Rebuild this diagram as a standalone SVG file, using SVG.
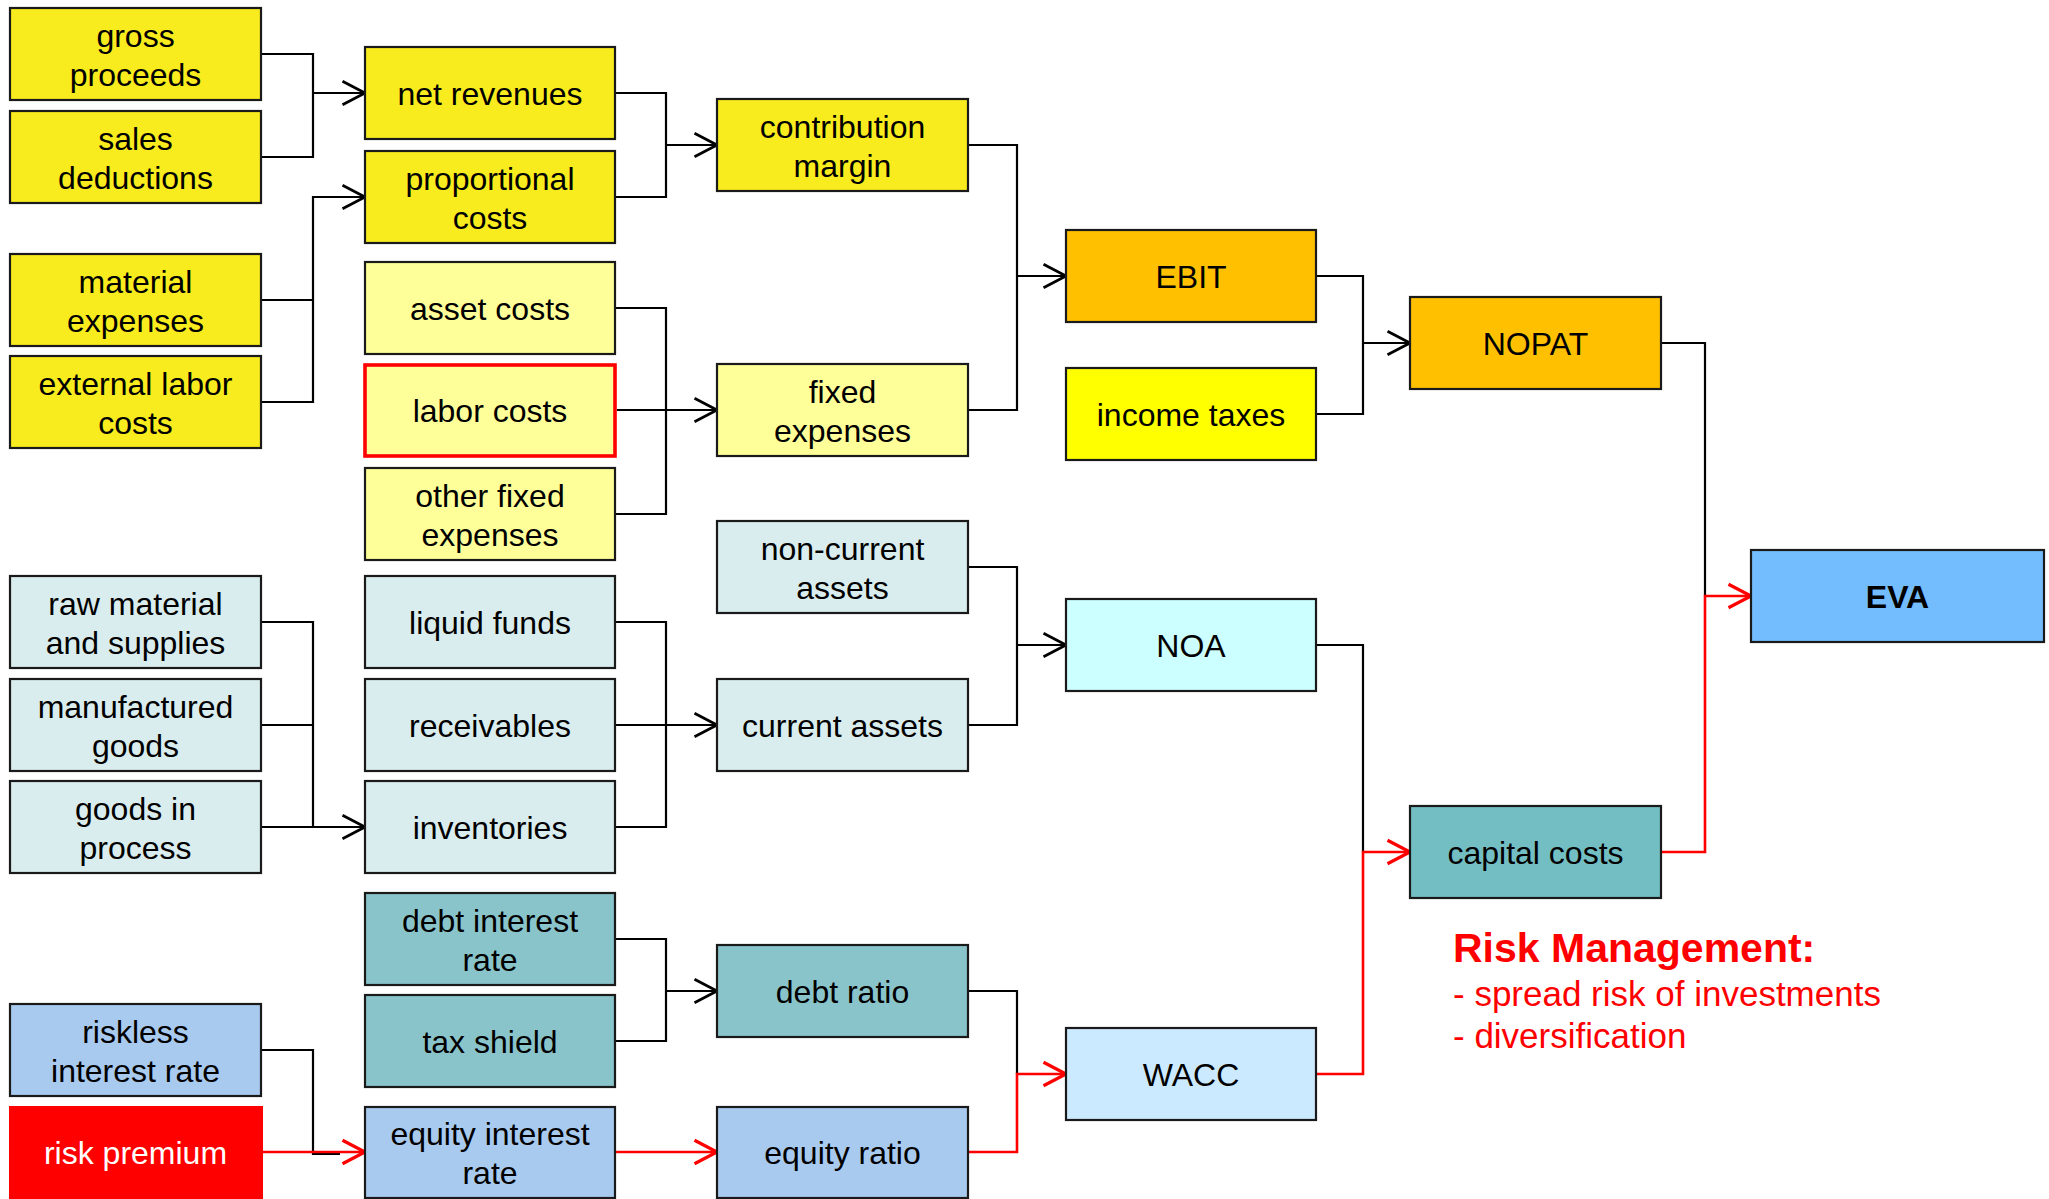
<svg xmlns="http://www.w3.org/2000/svg" width="2049" height="1199" viewBox="0 0 2049 1199">
  <style>
    .box { stroke: #1a1a1a; stroke-width: 2.2; }
    .lbl { font-family: "Liberation Sans", Arial, sans-serif; font-size: 32px; fill: #000; text-anchor: middle; }
    .bold { font-weight: bold; }
    .wire { fill: none; stroke: #000; stroke-width: 2.2; }
    .wire-red { fill: none; stroke: #ff0000; stroke-width: 2.6; }
    .arrow { marker-end: url(#head); }
    .arrow-red { marker-end: url(#head-red); }
    .y1 { fill: #f9ec1e; }
    .y2 { fill: #ffff99; }
    .y3 { fill: #ffff00; }
    .or { fill: #ffc000; }
    .gc { fill: #daedee; }
    .tl { fill: #8ac4cb; }
    .tl2 { fill: #73bec3; }
    .bl { fill: #a9caef; }
    .cy { fill: #ccffff; }
    .sk { fill: #cceaff; }
    .ev { fill: #73bdfe; }
    .note { font-family: "Liberation Sans", Arial, sans-serif; fill: #ff0000; }
  </style>
  <defs>
    <marker id="head" markerUnits="userSpaceOnUse" markerWidth="30" markerHeight="30" viewBox="-24 -14 26 28" refX="0" refY="0" orient="auto">
      <path d="M-21,-11 L0,0 L-21,11" fill="none" stroke="#000" stroke-width="2.6"/>
    </marker>
    <marker id="head-red" markerUnits="userSpaceOnUse" markerWidth="30" markerHeight="30" viewBox="-24 -14 26 28" refX="0" refY="0" orient="auto">
      <path d="M-21,-11 L0,0 L-21,11" fill="none" stroke="#ff0000" stroke-width="3"/>
    </marker>
  </defs>

  <rect width="2049" height="1199" fill="#ffffff"/>

  <!-- connectors -->
  <g id="connectors">
    <path class="wire" d="M261,54 H313 V157 H261"/>
    <path class="wire arrow" d="M313,93 H365"/>
    <path class="wire" d="M261,300 H313"/>
    <path class="wire arrow" d="M261,402 H313 V197 H365"/>
    <path class="wire" d="M615,93 H666 V197 H615"/>
    <path class="wire arrow" d="M666,145 H717"/>
    <path class="wire" d="M615,308 H666 V514 H615"/>
    <path class="wire arrow" d="M617,410 H717"/>
    <path class="wire" d="M968,145 H1017 V410 H968"/>
    <path class="wire arrow" d="M1017,276 H1066"/>
    <path class="wire" d="M1316,276 H1363 V414 H1316"/>
    <path class="wire arrow" d="M1363,343 H1410"/>
    <path class="wire" d="M1661,343 H1705 V596"/>
    <path class="wire-red arrow-red" d="M1661,852 H1705 V596 H1751"/>
    <path class="wire" d="M261,622 H313 V827"/>
    <path class="wire" d="M261,725 H313"/>
    <path class="wire arrow" d="M261,827 H365"/>
    <path class="wire" d="M615,622 H666 V827 H615"/>
    <path class="wire arrow" d="M615,725 H717"/>
    <path class="wire" d="M968,567 H1017 V725 H968"/>
    <path class="wire arrow" d="M1017,645 H1066"/>
    <path class="wire" d="M1316,645 H1363 V852"/>
    <path class="wire-red arrow-red" d="M1316,1074 H1363 V852 H1410"/>
    <path class="wire" d="M615,939 H666 V1041 H615"/>
    <path class="wire arrow" d="M666,991 H717"/>
    <path class="wire" d="M261,1050 H313 V1154 H340"/>
    <path class="wire-red arrow-red" d="M262,1152 H365"/>
    <path class="wire-red arrow-red" d="M615,1152 H717"/>
    <path class="wire" d="M968,991 H1017 V1074"/>
    <path class="wire-red arrow-red" d="M968,1152 H1017 V1074 H1066"/>
  </g>

  <!-- first column -->
  <g id="gross-proceeds">
    <rect class="box y1" x="10" y="8" width="251" height="92"/>
    <text class="lbl" x="135.5" y="47">gross</text>
    <text class="lbl" x="135.5" y="86">proceeds</text>
  </g>
  <g id="sales-deductions">
    <rect class="box y1" x="10" y="111" width="251" height="92"/>
    <text class="lbl" x="135.5" y="150">sales</text>
    <text class="lbl" x="135.5" y="189">deductions</text>
  </g>
  <g id="material-expenses">
    <rect class="box y1" x="10" y="254" width="251" height="92"/>
    <text class="lbl" x="135.5" y="293">material</text>
    <text class="lbl" x="135.5" y="332">expenses</text>
  </g>
  <g id="external-labor-costs">
    <rect class="box y1" x="10" y="356" width="251" height="92"/>
    <text class="lbl" x="135.5" y="395">external labor</text>
    <text class="lbl" x="135.5" y="434">costs</text>
  </g>
  <g id="raw-material">
    <rect class="box gc" x="10" y="576" width="251" height="92"/>
    <text class="lbl" x="135.5" y="615">raw material</text>
    <text class="lbl" x="135.5" y="654">and supplies</text>
  </g>
  <g id="manufactured-goods">
    <rect class="box gc" x="10" y="679" width="251" height="92"/>
    <text class="lbl" x="135.5" y="718">manufactured</text>
    <text class="lbl" x="135.5" y="757">goods</text>
  </g>
  <g id="goods-in-process">
    <rect class="box gc" x="10" y="781" width="251" height="92"/>
    <text class="lbl" x="135.5" y="820">goods in</text>
    <text class="lbl" x="135.5" y="859">process</text>
  </g>
  <g id="riskless-interest-rate">
    <rect class="box bl" x="10" y="1004" width="251" height="92"/>
    <text class="lbl" x="135.5" y="1043">riskless</text>
    <text class="lbl" x="135.5" y="1082">interest rate</text>
  </g>
  <g id="risk-premium">
    <rect x="9" y="1106" width="254" height="93" fill="#ff0000"/>
    <text class="lbl" x="135.5" y="1164" style="fill:#ffffff">risk premium</text>
  </g>

  <!-- second column -->
  <g id="net-revenues">
    <rect class="box y1" x="365" y="47" width="250" height="92"/>
    <text class="lbl" x="490" y="105">net revenues</text>
  </g>
  <g id="proportional-costs">
    <rect class="box y1" x="365" y="151" width="250" height="92"/>
    <text class="lbl" x="490" y="190">proportional</text>
    <text class="lbl" x="490" y="229">costs</text>
  </g>
  <g id="asset-costs">
    <rect class="box y2" x="365" y="262" width="250" height="92"/>
    <text class="lbl" x="490" y="320">asset costs</text>
  </g>
  <g id="labor-costs">
    <rect x="365" y="365" width="250" height="91" fill="#ffff99" stroke="#ff0000" stroke-width="3.6"/>
    <text class="lbl" x="490" y="422">labor costs</text>
  </g>
  <g id="other-fixed-expenses">
    <rect class="box y2" x="365" y="468" width="250" height="92"/>
    <text class="lbl" x="490" y="507">other fixed</text>
    <text class="lbl" x="490" y="546">expenses</text>
  </g>
  <g id="liquid-funds">
    <rect class="box gc" x="365" y="576" width="250" height="92"/>
    <text class="lbl" x="490" y="634">liquid funds</text>
  </g>
  <g id="receivables">
    <rect class="box gc" x="365" y="679" width="250" height="92"/>
    <text class="lbl" x="490" y="737">receivables</text>
  </g>
  <g id="inventories">
    <rect class="box gc" x="365" y="781" width="250" height="92"/>
    <text class="lbl" x="490" y="839">inventories</text>
  </g>
  <g id="debt-interest-rate">
    <rect class="box tl" x="365" y="893" width="250" height="92"/>
    <text class="lbl" x="490" y="932">debt interest</text>
    <text class="lbl" x="490" y="971">rate</text>
  </g>
  <g id="tax-shield">
    <rect class="box tl" x="365" y="995" width="250" height="92"/>
    <text class="lbl" x="490" y="1053">tax shield</text>
  </g>
  <g id="equity-interest-rate">
    <rect class="box bl" x="365" y="1107" width="250" height="91"/>
    <text class="lbl" x="490" y="1145">equity interest</text>
    <text class="lbl" x="490" y="1184">rate</text>
  </g>

  <!-- third column -->
  <g id="contribution-margin">
    <rect class="box y1" x="717" y="99" width="251" height="92"/>
    <text class="lbl" x="842.5" y="138">contribution</text>
    <text class="lbl" x="842.5" y="177">margin</text>
  </g>
  <g id="fixed-expenses">
    <rect class="box y2" x="717" y="364" width="251" height="92"/>
    <text class="lbl" x="842.5" y="403">fixed</text>
    <text class="lbl" x="842.5" y="442">expenses</text>
  </g>
  <g id="non-current-assets">
    <rect class="box gc" x="717" y="521" width="251" height="92"/>
    <text class="lbl" x="842.5" y="560">non-current</text>
    <text class="lbl" x="842.5" y="599">assets</text>
  </g>
  <g id="current-assets">
    <rect class="box gc" x="717" y="679" width="251" height="92"/>
    <text class="lbl" x="842.5" y="737">current assets</text>
  </g>
  <g id="debt-ratio">
    <rect class="box tl" x="717" y="945" width="251" height="92"/>
    <text class="lbl" x="842.5" y="1003">debt ratio</text>
  </g>
  <g id="equity-ratio">
    <rect class="box bl" x="717" y="1107" width="251" height="91"/>
    <text class="lbl" x="842.5" y="1164">equity ratio</text>
  </g>

  <!-- fourth column -->
  <g id="ebit">
    <rect class="box or" x="1066" y="230" width="250" height="92"/>
    <text class="lbl" x="1191" y="288">EBIT</text>
  </g>
  <g id="income-taxes">
    <rect class="box y3" x="1066" y="368" width="250" height="92"/>
    <text class="lbl" x="1191" y="426">income taxes</text>
  </g>
  <g id="noa">
    <rect class="box cy" x="1066" y="599" width="250" height="92"/>
    <text class="lbl" x="1191" y="657">NOA</text>
  </g>
  <g id="wacc">
    <rect class="box sk" x="1066" y="1028" width="250" height="92"/>
    <text class="lbl" x="1191" y="1086">WACC</text>
  </g>

  <!-- fifth column -->
  <g id="nopat">
    <rect class="box or" x="1410" y="297" width="251" height="92"/>
    <text class="lbl" x="1535.5" y="355">NOPAT</text>
  </g>
  <g id="capital-costs">
    <rect class="box tl2" x="1410" y="806" width="251" height="92"/>
    <text class="lbl" x="1535.5" y="864">capital costs</text>
  </g>

  <!-- result -->
  <g id="eva">
    <rect class="box ev" x="1751" y="550" width="293" height="92"/>
    <text class="lbl bold" x="1897.5" y="608">EVA</text>
  </g>

  <!-- risk management note -->
  <g id="risk-management">
    <text class="note" x="1453" y="962" font-size="41" font-weight="bold">Risk Management:</text>
    <text class="note" x="1453" y="1006" font-size="35">- spread risk of investments</text>
    <text class="note" x="1453" y="1048" font-size="35">- diversification</text>
  </g>
</svg>
